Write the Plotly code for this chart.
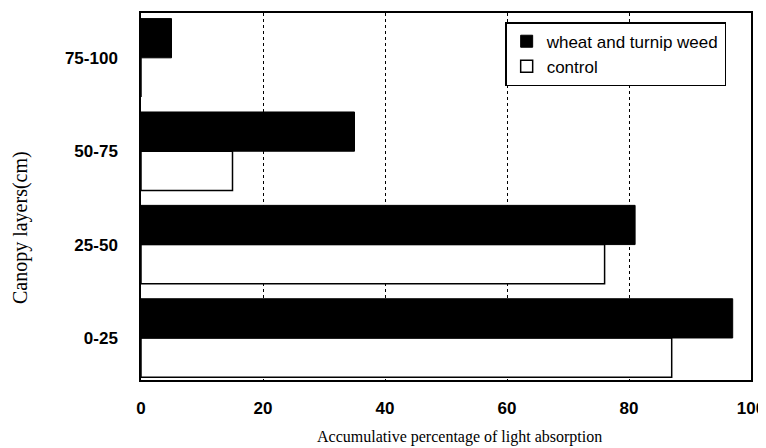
import plotly.graph_objects as go

categories = ["0-25", "25-50", "50-75", "75-100"]
wheat_turnip = [97, 81, 35, 5]
control = [87, 76, 15, 0]
x_ticks = [0, 20, 40, 60, 80, 100]

x_title = "Accumulative percentage of light absorption"
y_title = "Canopy layers(cm)"

fig = go.Figure()
fig.add_trace(go.Bar(
    y=categories, x=control, orientation="h", name="control",
    marker=dict(color="white", line=dict(color="black", width=1.5)),
))
fig.add_trace(go.Bar(
    y=categories, x=wheat_turnip, orientation="h", name="wheat and turnip weed",
    marker=dict(color="black", line=dict(color="black", width=1)),
))

sans = "Liberation Sans, Arial"
serif = "Liberation Serif, Times New Roman"

# page body has an 8px default margin, so the figure is sized to fill the rest
fig.update_layout(
    width=758, height=440,
    margin=dict(l=133, r=15, t=5, b=68),
    plot_bgcolor="white", paper_bgcolor="white",
    barmode="group", bargap=0.16, bargroupgap=0,
    showlegend=True,
    legend=dict(
        x=0.597, y=0.975, xanchor="left", yanchor="top",
        traceorder="reversed",
        bgcolor="white", bordercolor="black", borderwidth=1.5,
        font=dict(family=sans, size=17, color="black"),
        tracegroupgap=0,
    ),
    xaxis=dict(
        range=[0, 100], tickvals=x_ticks, automargin=False,
        showgrid=True, gridcolor="black", griddash="dot", gridwidth=1,
        showline=True, linecolor="black", linewidth=1.5, mirror=True,
        ticks="", zeroline=False,
        tickfont=dict(family=sans, size=17, color="black", weight="bold"),
        ticklabelstandoff=12,
    ),
    yaxis=dict(
        range=[-0.45, 3.48], automargin=False,
        showline=True, linecolor="black", linewidth=1.5, mirror=True,
        ticks="", showgrid=False,
        tickfont=dict(family=sans, size=17, color="black", weight="bold"),
        ticklabelstandoff=18,
    ),
    annotations=[
        dict(text=x_title, xref="paper", yref="paper", x=0.5, y=0,
             xshift=13, yshift=-57, showarrow=False,
             xanchor="center", yanchor="middle",
             font=dict(family=serif, size=16, color="black")),
        dict(text=y_title, xref="paper", yref="paper", x=0, y=0.414,
             xshift=-121, showarrow=False, textangle=-90,
             xanchor="center", yanchor="middle",
             font=dict(family=serif, size=20, color="black")),
    ],
)

fig.write_html("out.html")
